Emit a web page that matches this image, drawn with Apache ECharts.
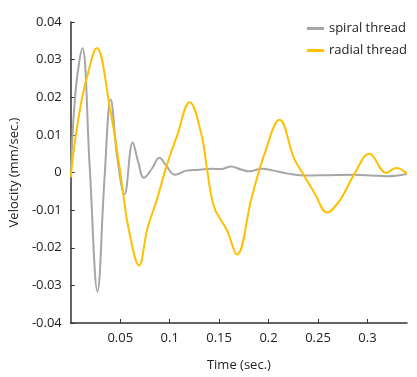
<!DOCTYPE html>
<html>
<head>
<meta charset="utf-8">
<script src="https://cdn.jsdelivr.net/npm/echarts@6/dist/echarts.min.js"></script>
<style>
  html, body { margin: 0; padding: 0; background: #fff; }
  #main { width: 417px; height: 377px; }
</style>
</head>
<body>
<div id="main"></div>
<script type="text/javascript">
  // spiral thread (grey)
  var spiralTime = [0, 0.005, 0.0117, 0.019, 0.027, 0.034, 0.0404, 0.047, 0.0543, 0.0626, 0.068, 0.074,
    0.082, 0.0896, 0.096, 0.1055, 0.117, 0.130, 0.142, 0.152, 0.162, 0.172, 0.181, 0.193, 0.205,
    0.220, 0.238, 0.260, 0.287, 0.305, 0.320, 0.34];
  var spiralVel = [0, 0.022, 0.033, 0.002, -0.0316, -0.002, 0.0194, 0.004, -0.0058, 0.008, 0.003, -0.0014,
    0.001, 0.0039, 0.002, -0.0006, 0.0005, 0.0007, 0.001, 0.0009, 0.0016, 0.0008, 0.0003, 0.001, 0.0005,
    -0.0003, -0.0008, -0.0007, -0.0006, -0.0008, -0.001, -0.0004];

  // radial thread (yellow)
  var radialTime = [0, 0.003, 0.0097, 0.0163, 0.0262, 0.0394, 0.0493, 0.0527, 0.0592, 0.069, 0.0774,
    0.0873, 0.097, 0.107, 0.1203, 0.1319, 0.138, 0.145, 0.158, 0.168, 0.183, 0.196, 0.211, 0.226,
    0.234, 0.247, 0.259, 0.272, 0.287, 0.302, 0.319, 0.329, 0.34];
  var radialVel = [-0.0013, 0.006, 0.0174, 0.0253, 0.0331, 0.0174, 0.0014, -0.0052, -0.0159, -0.0247, -0.015,
    -0.007, 0.0019, 0.0094, 0.0187, 0.0103, 0.0005, -0.0092, -0.0154, -0.0218, -0.0066, 0.005, 0.014, 0.0036,
    0.0, -0.0057, -0.0106, -0.0074, -0.0003, 0.005, -0.0001, 0.0012, -0.0003];

  var xTicks = [0.05, 0.1, 0.15, 0.2, 0.25, 0.3];

  function pairs(xs, ys) {
    return xs.map(function(x, i) { return [x, ys[i]]; });
  }

  var font = '"Open Sans", sans-serif';
  var chart = echarts.init(document.getElementById('main'));

  chart.setOption({
    animation: false,
    grid: { left: 64, right: 10, top: 22, bottom: 54 },
    legend: {
      orient: 'vertical',
      right: 5,
      top: 17,
      icon: 'rect',
      itemWidth: 17,
      itemHeight: 3,
      itemGap: 9,
      textStyle: { fontFamily: font, fontSize: 13, color: '#222', padding: [1, 0, 1, 0] },
      data: ['spiral thread', 'radial thread']
    },
    xAxis: {
      type: 'value',
      min: 0,
      max: 0.34,
      name: 'Time (sec.)',
      nameLocation: 'middle',
      nameGap: 36,
      nameTextStyle: { fontFamily: font, fontSize: 13, color: '#222' },
      splitLine: { show: false },
      axisLine: { onZero: false, lineStyle: { color: '#333', width: 1.5 } },
      axisTick: { inside: true, length: 4, customValues: xTicks, lineStyle: { color: '#333' } },
      axisLabel: {
        customValues: xTicks,
        fontFamily: font, fontSize: 13, color: '#222', margin: 9,
        formatter: function(v) { return String(+v.toFixed(2)); }
      }
    },
    yAxis: {
      type: 'value',
      min: -0.04,
      max: 0.04,
      interval: 0.01,
      name: 'Velocity (mm/sec.)',
      nameLocation: 'middle',
      nameGap: 49,
      nameTextStyle: { fontFamily: font, fontSize: 13, color: '#222' },
      splitLine: { show: false },
      axisLine: { show: true, lineStyle: { color: '#333', width: 1.5 } },
      axisTick: { show: true, inside: true, length: 4, lineStyle: { color: '#333' } },
      axisLabel: {
        fontFamily: font, fontSize: 13, color: '#222', margin: 9,
        formatter: function(v) {
          if (Math.abs(v) < 1e-9) return '0';
          return v.toFixed(2);
        }
      }
    },
    series: [
      {
        name: 'spiral thread',
        type: 'line',
        data: pairs(spiralTime, spiralVel),
        smooth: 0.4,
        symbol: 'none',
        lineStyle: { color: '#a6a6a6', width: 2 },
        itemStyle: { color: '#a6a6a6' }
      },
      {
        name: 'radial thread',
        type: 'line',
        data: pairs(radialTime, radialVel),
        smooth: 0.4,
        symbol: 'none',
        lineStyle: { color: '#ffc000', width: 2 },
        itemStyle: { color: '#ffc000' }
      }
    ]
  });
</script>
</body>
</html>
